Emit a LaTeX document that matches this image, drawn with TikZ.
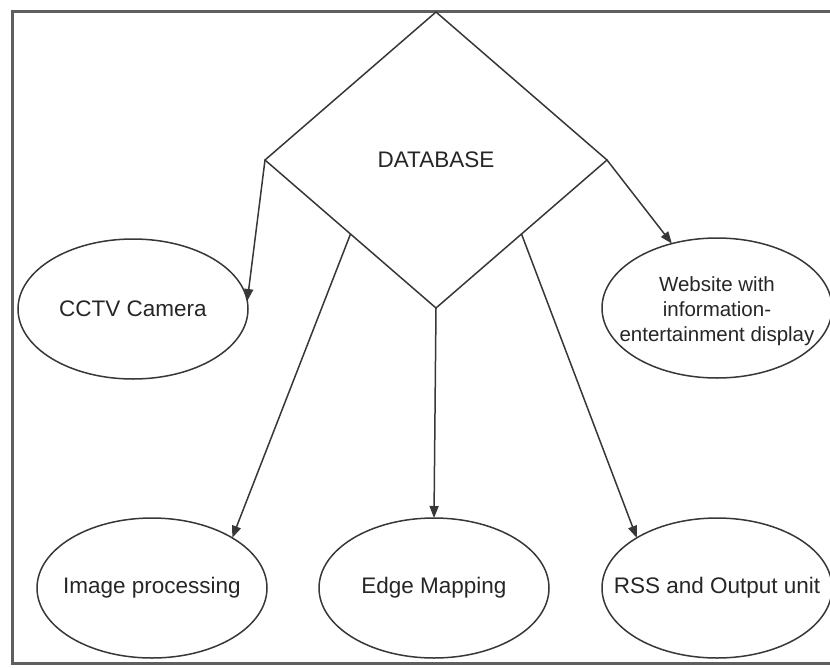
\documentclass[tikz,border=0pt]{standalone}
\usepackage{fontspec}
\setmainfont{Liberation Sans}
\usetikzlibrary{shapes.geometric,arrows.meta,calc}
\definecolor{linec}{RGB}{55,55,55}
\definecolor{framec}{RGB}{95,95,95}
\newcommand{\zbox}[1]{\makebox[0pt][c]{#1}}
\tikzset{
  ell/.style={ellipse,draw=linec,line width=1.5pt,minimum width=230pt,minimum height=140pt,inner sep=0pt,outer sep=0pt,font=\fontsize{22.5}{26}\selectfont,text=black!85},
  conn/.style={draw=linec,line width=1.5pt,-{Triangle[length=12pt,width=9pt]}},
}
\begin{document}
\begin{tikzpicture}[x=1pt,y=-1pt]
\useasboundingbox (0,0) rectangle (830,667);
\clip (0,0) rectangle (830,667);
\draw[framec,line width=3pt] (12,11) rectangle (860,663);
\node[diamond,draw=linec,line width=1.5pt,minimum width=342pt,minimum height=296pt,inner sep=0pt,outer sep=0pt,font=\fontsize{22.5}{26}\selectfont,text=black!85] (db) at (436,160) {DATABASE};
\node[ell] (cctv) at (133,309) {\zbox{CCTV Camera}};
\node[ell,font=\fontsize{20.5}{25}\selectfont] (web) at (717,308) {\smash{\raisebox{-9pt}{\zbox{\begin{tabular}{@{}c@{}}Website with\\information-\\entertainment display\end{tabular}}}}};
\node[ell] (img) at (152,588) {\zbox{Image processing}};
\node[ell] (edge) at (434,588) {\zbox{Edge Mapping}};
\node[ell] (rss) at (717,588) {\zbox{RSS and Output unit}};
\coordinate (dl) at ($(db.west)!0.5!(db.south)$);
\coordinate (dr) at ($(db.east)!0.5!(db.south)$);
\draw[conn] (db.west) -- (cctv.4);
\draw[conn] (db.east) -- (web.125);
\draw[conn] (dl) -- (img.32);
\draw[conn] (db.south) -- (edge.north);
\draw[conn] (dr) -- (rss.148);
\end{tikzpicture}
\end{document}
